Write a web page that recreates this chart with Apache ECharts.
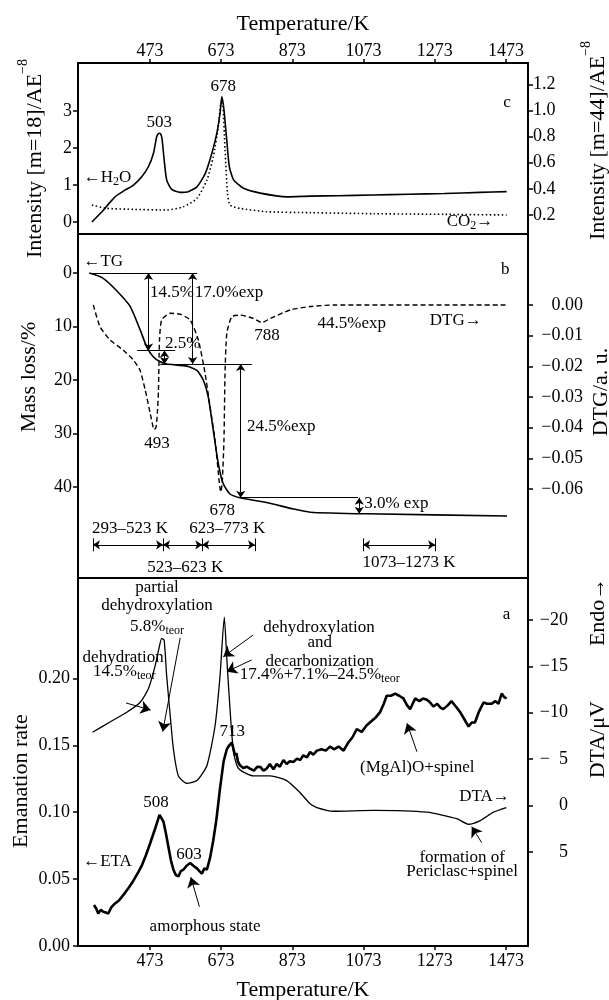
<!DOCTYPE html>
<html>
<head>
<meta charset="utf-8">
<title>Thermal analysis</title>
<script src="https://cdn.jsdelivr.net/npm/echarts@6.0.0/dist/echarts.min.js"></script>
<style>
  html, body { margin: 0; padding: 0; background: #fff; }
  #chart { width: 609px; height: 1000px; }
</style>
</head>
<body>
<div id="chart"></div>
<script>
const FONT = '"Liberation Serif", "DejaVu Serif", serif';
const BLACK = '#000';

// shared temperature ticks (K)
const tempTicks = [473, 673, 873, 1073, 1273, 1473];

// panel c - evolved gas intensities
const h2oTemp = [310, 342, 375, 403, 427, 450, 469, 483, 492, 498, 503, 507, 513, 520, 534, 558, 581, 605, 628, 647, 661, 670, 675, 681, 689, 696, 708, 736, 783, 858, 923, 1000, 1100, 1200, 1300, 1400, 1475];
const h2oInt = [0, 0.32, 0.68, 0.86, 1.0, 1.22, 1.5, 1.86, 2.3, 2.4, 2.38, 2.25, 1.68, 1.14, 0.88, 0.8, 0.82, 0.95, 1.3, 1.86, 2.4, 2.94, 3.39, 3.03, 2.2, 1.5, 1.14, 0.91, 0.78, 0.68, 0.7, 0.71, 0.73, 0.75, 0.77, 0.8, 0.82];
const co2Temp = [310, 352, 427, 520, 567, 605, 633, 651, 665, 673, 678, 684, 691, 698, 726, 801, 923, 1100, 1300, 1475];
const co2Int = [0.276, 0.251, 0.243, 0.238, 0.263, 0.327, 0.467, 0.645, 0.874, 1.06, 1.04, 0.7, 0.366, 0.276, 0.251, 0.225, 0.218, 0.21, 0.205, 0.2];

// panel b - TG / DTG
const tgTemp = [303, 340, 375, 417, 446, 464, 483, 502, 520, 577, 605, 623, 637, 651, 665, 679, 698, 726, 801, 876, 923, 1082, 1476];
const tgLoss = [0, 0.9, 3.0, 6.2, 10.7, 13.8, 15.7, 16.6, 17.0, 17.4, 18.2, 20.0, 23.2, 29.4, 35.6, 39.4, 41.3, 42.0, 42.9, 44.1, 44.7, 45.0, 45.4];
const dtgTemp = [314, 333, 361, 398, 427, 445, 460, 474, 485, 490, 494, 497, 500, 506, 530, 558, 586, 609, 628, 642, 656, 668, 672, 676, 681, 684, 689, 703, 726, 764, 787, 811, 867, 923, 988, 1476];
const dtgVal = [0, -0.0071, -0.0114, -0.0147, -0.018, -0.0212, -0.0278, -0.0354, -0.0406, -0.04, -0.035, -0.0278, -0.0114, -0.0049, -0.0027, -0.003, -0.0049, -0.0114, -0.0223, -0.0332, -0.0441, -0.058, -0.061, -0.058, -0.0441, -0.0223, -0.0093, -0.0038, -0.0033, -0.0044, -0.0057, -0.0044, -0.0016, -0.0005, 0, 0];

// panel a - emanation rate / DTA
const etaTemp = [316, 322, 328, 335, 342, 349, 356, 365, 375, 386, 398, 412, 427, 440, 450, 462, 474, 488, 500, 505, 511, 518, 525, 532, 539, 546, 553, 560, 567, 576, 586, 595, 605, 612, 619, 626, 633, 642, 651, 660, 670, 680, 689, 696, 703, 707, 712, 716, 720, 726, 735, 745, 754, 765, 775, 783, 792, 801, 810, 820, 829, 838, 848, 857, 866, 876, 886, 895, 904, 914, 923, 932, 942, 955, 967, 979, 990, 1003, 1017, 1030, 1042, 1054, 1068, 1082, 1095, 1108, 1120, 1130, 1138, 1150, 1162, 1173, 1185, 1195, 1204, 1211, 1218, 1230, 1240, 1251, 1260, 1269, 1280, 1290, 1297, 1310, 1320, 1326, 1335, 1344, 1355, 1368, 1377, 1386, 1397, 1410, 1420, 1433, 1443, 1452, 1461, 1468, 1475];
const etaRate = [0.0306, 0.028, 0.0243, 0.027, 0.0256, 0.025, 0.0243, 0.029, 0.0318, 0.034, 0.038, 0.043, 0.049, 0.055, 0.06, 0.068, 0.077, 0.088, 0.098, 0.097, 0.093, 0.084, 0.074, 0.064, 0.057, 0.053, 0.052, 0.056, 0.057, 0.06, 0.062, 0.06, 0.058, 0.056, 0.054, 0.058, 0.057, 0.066, 0.079, 0.095, 0.118, 0.138, 0.147, 0.15, 0.152, 0.148, 0.1425, 0.144, 0.138, 0.135, 0.133, 0.134, 0.1326, 0.131, 0.134, 0.1338, 0.131, 0.1326, 0.136, 0.132, 0.136, 0.134, 0.139, 0.136, 0.138, 0.1375, 0.14, 0.139, 0.1425, 0.141, 0.145, 0.143, 0.146, 0.147, 0.146, 0.149, 0.147, 0.149, 0.146, 0.152, 0.156, 0.162, 0.16, 0.165, 0.168, 0.171, 0.175, 0.181, 0.187, 0.187, 0.1886, 0.187, 0.185, 0.18, 0.177, 0.181, 0.185, 0.183, 0.185, 0.184, 0.182, 0.179, 0.181, 0.178, 0.177, 0.18, 0.183, 0.181, 0.178, 0.175, 0.17, 0.164, 0.167, 0.167, 0.175, 0.182, 0.181, 0.181, 0.183, 0.181, 0.1886, 0.186, 0.185];
const dtaTemp = [312, 361, 408, 445, 469, 488, 500, 506, 513, 520, 530, 539, 553, 577, 605, 633, 656, 670, 682, 689, 698, 708, 722, 764, 811, 857, 895, 923, 942, 988, 1101, 1251, 1335, 1368, 1401, 1438, 1474];
const dtaVal = [-7.9, -9.0, -10.05, -11.1, -12.6, -15.1, -17.2, -18.0, -17.8, -14.0, -9.7, -6.1, -3.2, -2.4, -2.7, -4.3, -8.6, -14.0, -20.3, -15.8, -10.4, -5.7, -4.0, -3.2, -3.2, -2.7, -1.4, -0.2, 0.2, 0.6, 0.5, 0.7, 1.4, 2.0, 1.6, 0.7, 0.2];

// axis tick values
const h2oTicks = [0, 1, 2, 3];
const co2Ticks = [0.2, 0.4, 0.6, 0.8, 1.0, 1.2];
const tgTicks = [0, 10, 20, 30, 40];
const dtgTicks = [0, -0.01, -0.02, -0.03, -0.04, -0.05, -0.06];
const etaTicks = [0, 0.05, 0.1, 0.15, 0.2];
const dtaTicks = [-20, -15, -10, -5, 0, 5];

// annotation texts: [temperature, value on the panel's left axis, text]
const notesC = [
  [679, 3.65, '678'], [499, 2.68, '503'], [354, 1.19, '{n|\u2190H}{s|2}{n|O}'],
  [1476, 3.22, 'c'], [1372, 0.0, '{n|CO}{s|2}{n|\u2192}']
];
const notesB = [
  [342, -2.1, '\u2190TG'], [535, 3.74, '14.5%'], [695, 3.74, '17.0%exp'], [565, 13.1, '2.5%'],
  [842, 28.7, '24.5%exp'], [1165, 43.0, '3.0% exp'], [1040, 9.35, '44.5%exp'], [1332, 8.97, 'DTG\u2192'],
  [1471, -0.56, 'b'], [493, 31.8, '493'], [676, 44.3, '678'], [802, 11.6, '788'],
  [417, 47.7, '293\u2013523 K'], [690, 47.7, '623\u2013773 K'], [572, 55.0, '523\u2013623 K'], [1201, 54.2, '1073\u20131273 K']
];
const notesA = [
  [493, 0.2676, 'partial'], [493, 0.2541, 'dehydroxylation'], [493, 0.2384, '{n|5.8%}{s|teor}'],
  [398, 0.2152, 'dehydration'], [401, 0.2048, '{n|14.5%}{s|teor}'],
  [948, 0.2377, 'dehydroxylation'], [950, 0.2265, 'and'], [950, 0.2123, 'decarbonization'],
  [950, 0.2025, '{n|17.4%+7.1%\u201324.5%}{s|teor}'],
  [704, 0.16, '713'], [490, 0.1069, '508'], [583, 0.068, '603'], [354, 0.0628, '\u2190ETA'],
  [628, 0.0149, 'amorphous state'], [1475, 0.248, 'a'], [1224, 0.133, '(MgAl)O+spinel'],
  [1413, 0.1114, 'DTA\u2192'], [1350, 0.0658, 'formation of'], [1350, 0.0553, 'Periclasc+spinel']
];

// guide lines and arrows on the TG panel: [[T1, loss1], [T2, loss2]]
const tgGuides = [[[302, 0], [606, 0]], [[437, 14.5], [544, 14.5]], [[502, 17], [759, 17]], [[728, 42], [1058, 42]]];
const tgSpans = [[[469, 0], [469, 14.5]], [[593, 0], [593, 17]], [[514, 14.5], [514, 17]], [[728, 17], [728, 42]], [[1061, 42], [1061, 45]]];
const rangeEdges = [[313, 510], [510, 620], [620, 768], [1072, 1274]];
// pointer arrows on the emanation panel: [[tail], [head]]
const etaPointers = [
  [[406, 0.1816], [475, 0.1764]], [[558, 0.2302], [509, 0.1602]],
  [[763, 0.2324], [679, 0.2162]], [[759, 0.2138], [689, 0.205]],
  [[612, 0.0294], [588, 0.0513]], [[1223, 0.1452], [1195, 0.1664]], [[1405, 0.0772], [1377, 0.0892]]
];

const pairs = (xs, ys) => xs.map((x, i) => [x, ys[i]]);
const minus = (s) => s.replace('-', '\u2212');

const RICH = {
  n: { fontFamily: FONT, fontSize: 17, color: BLACK, lineHeight: 20 },
  s: { fontFamily: FONT, fontSize: 12, color: BLACK, lineHeight: 12, verticalAlign: 'bottom' }
};
const NAME_RICH = {
  n: { fontFamily: FONT, fontSize: 22, color: BLACK, lineHeight: 30, verticalAlign: 'bottom' },
  sup: { fontFamily: FONT, fontSize: 14, color: BLACK, lineHeight: 14, verticalAlign: 'top' }
};

function notes(list) {
  return {
    symbol: 'circle', symbolSize: 0, silent: true, animation: false,
    label: { show: true, position: 'inside', color: BLACK, fontFamily: FONT, fontSize: 17, rich: RICH },
    data: list.map(n => ({ coord: [n[0], n[1]], value: 0, label: { formatter: n[2] } }))
  };
}

function seg(a, b, s1, s2, size) {
  return [{ coord: a, symbol: s1, symbolSize: size }, { coord: b, symbol: s2, symbolSize: size }];
}

const tgMarks = [].concat(
  tgGuides.map(g => seg(g[0], g[1], 'none', 'none', 0)),
  tgSpans.map(g => seg(g[0], g[1], 'arrow', 'arrow', 7)),
  rangeEdges.map(r => seg([r[0], 50.8], [r[1], 50.8], 'arrow', 'arrow', 7)),
  [313, 510, 620, 768, 1072, 1274].map(t => seg([t, 49.6], [t, 52.0], 'none', 'none', 0))
);
const etaMarks = etaPointers.map(p => seg(p[0], p[1], 'none', 'arrow', 10));

function markLines(data) {
  return {
    silent: true, animation: false, label: { show: false },
    lineStyle: { color: BLACK, width: 1, type: 'solid' },
    data: data
  };
}

function xAxis(grid, extra) {
  return Object.assign({
    type: 'value', gridIndex: grid, min: 271, max: 1535,
    splitLine: { show: false },
    axisLine: { show: false, onZero: false },
    axisTick: { show: false },
    axisLabel: { show: false }
  }, extra);
}

const xTick = { show: true, customValues: tempTicks, length: 4, lineStyle: { color: BLACK, width: 1.5 } };
const xLabel = (margin) => ({ show: true, customValues: tempTicks, formatter: v => String(v), margin: margin, color: BLACK, fontFamily: FONT, fontSize: 18 });
const xName = { fontFamily: FONT, fontSize: 22, color: BLACK };

function yAxis(grid, side, min, max, ticks, fmt, label, name, gap, pad, extra) {
  return Object.assign({
    type: 'value', gridIndex: grid, position: side, min: min, max: max,
    splitLine: { show: false },
    axisLine: { show: false, onZero: false },
    axisTick: { show: true, customValues: ticks, length: 5, lineStyle: { color: BLACK, width: 1.5 } },
    axisLabel: Object.assign({ show: true, customValues: ticks, formatter: fmt, color: BLACK, fontFamily: FONT, fontSize: 18, margin: 6 }, label),
    name: name, nameLocation: 'middle', nameGap: gap, nameMoveOverlap: false,
    nameTextStyle: { fontFamily: FONT, fontSize: 22, color: BLACK, padding: pad, rich: NAME_RICH }
  }, extra);
}

const gridBase = { show: true, borderColor: BLACK, borderWidth: 2, left: 78, right: 81, outerBoundsMode: 'none', containLabel: false };

const option = {
  animation: false,
  backgroundColor: '#fff',
  textStyle: { fontFamily: FONT },
  grid: [
    Object.assign({ top: 63, height: 171 }, gridBase),
    Object.assign({ top: 234, height: 344 }, gridBase),
    Object.assign({ top: 578, height: 368 }, gridBase)
  ],
  xAxis: [
    xAxis(0, { position: 'top', axisTick: xTick, axisLabel: xLabel(3), name: 'Temperature/K', nameLocation: 'middle', nameGap: 28, nameTextStyle: xName }),
    xAxis(1, {}),
    xAxis(2, { position: 'bottom', axisTick: xTick, axisLabel: xLabel(6), name: 'Temperature/K', nameLocation: 'middle', nameGap: 33, nameTextStyle: xName })
  ],
  yAxis: [
    yAxis(0, 'left', -0.324, 4.297, h2oTicks, v => String(v), {}, '{n|Intensity [m=18]/AE}{sup|\u22128}', 32, [0, 20, 0, 0]),
    yAxis(0, 'right', 0.0546, 1.363, co2Ticks, v => v.toFixed(1), { margin: 5 }, '{n|Intensity [m=44]/AE}{sup|\u22128}', 51, [0, 0, 0, 16]),
    yAxis(1, 'left', -7.29, 57.0, tgTicks, v => String(v), {}, '{n|Mass loss/%}', 38, [0, 0, 0, 58], { inverse: true }),
    yAxis(1, 'right', -0.089, 0.02315, dtgTicks, v => v === 0 ? '0.00' : minus(v.toFixed(2)), { align: 'right', margin: 55 }, '{n|DTG/a. u.}', 54, [0, 0, 0, 28]),
    yAxis(2, 'left', 0, 0.275, etaTicks, v => v.toFixed(2), { margin: 8 }, '{n|Emanation rate}', 46, [0, 38, 0, 0]),
    yAxis(2, 'right', -24.5, 15.1, dtaTicks, v => v < 0 ? '\u2212' + (v > -10 ? '\u2002' : '') + Math.abs(v) : String(v), { align: 'right', margin: 40 }, '{n|DTA/\u03bcV          Endo\u2192}', 51, [0, 0, 0, 168], { inverse: true })
  ],
  series: [
    {
      name: 'H2O', type: 'line', xAxisIndex: 0, yAxisIndex: 0, data: pairs(h2oTemp, h2oInt),
      symbol: 'none', smooth: 0.2, lineStyle: { color: BLACK, width: 1.6 }, markPoint: notes(notesC)
    },
    {
      name: 'CO2', type: 'line', xAxisIndex: 0, yAxisIndex: 1, data: pairs(co2Temp, co2Int),
      symbol: 'none', smooth: 0.2, lineStyle: { color: BLACK, width: 1.6, type: [1.5, 2.5] }
    },
    {
      name: 'TG', type: 'line', xAxisIndex: 1, yAxisIndex: 2, data: pairs(tgTemp, tgLoss),
      symbol: 'none', smooth: 0.2, lineStyle: { color: BLACK, width: 1.6 },
      markLine: markLines(tgMarks), markPoint: notes(notesB)
    },
    {
      name: 'DTG', type: 'line', xAxisIndex: 1, yAxisIndex: 3, data: pairs(dtgTemp, dtgVal),
      symbol: 'none', smooth: 0.2, lineStyle: { color: BLACK, width: 1.4, type: [5, 3] }
    },
    {
      name: 'ETA', type: 'line', xAxisIndex: 2, yAxisIndex: 4, data: pairs(etaTemp, etaRate),
      symbol: 'none', lineStyle: { color: BLACK, width: 2.6 },
      markLine: markLines(etaMarks), markPoint: notes(notesA)
    },
    {
      name: 'DTA', type: 'line', xAxisIndex: 2, yAxisIndex: 5, data: pairs(dtaTemp, dtaVal),
      symbol: 'none', smooth: 0.2, lineStyle: { color: BLACK, width: 1.3 }
    }
  ]
};

const myChart = echarts.init(document.getElementById('chart'), null, { renderer: 'canvas' });
myChart.setOption(option);
window.addEventListener('resize', myChart.resize);
</script>
</body>
</html>
